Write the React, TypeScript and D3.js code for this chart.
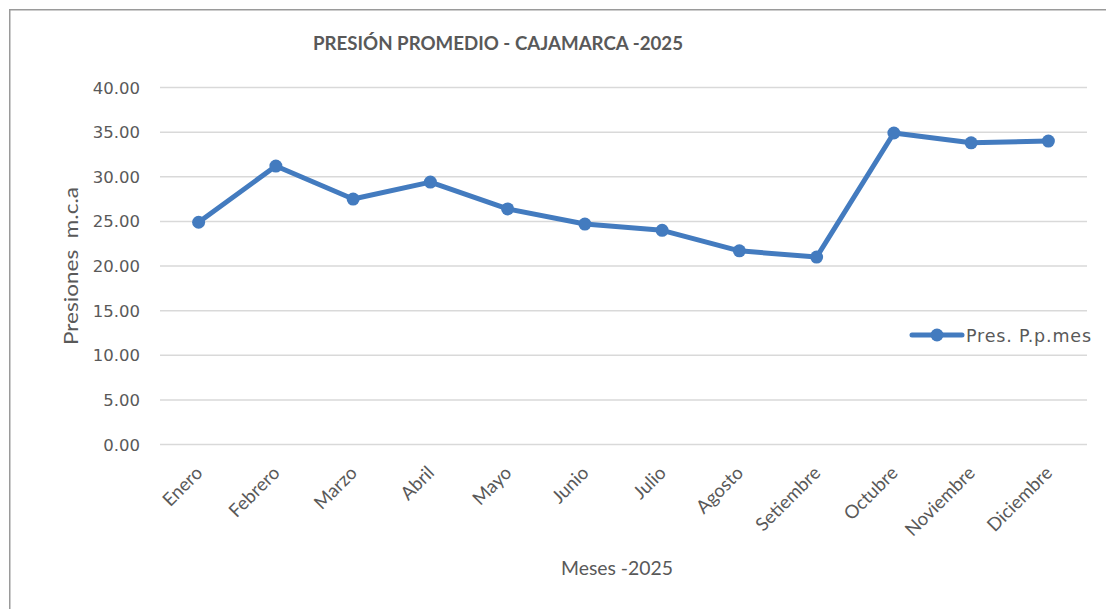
import React from "react";
import * as d3 from "d3";

const months = ["Enero","Febrero","Marzo","Abril","Mayo","Junio","Julio","Agosto","Setiembre","Octubre","Noviembre","Diciembre"];
const pressures = [24.9, 31.2, 27.5, 29.4, 26.4, 24.7, 24.0, 21.7, 21.0, 34.9, 33.8, 34.0];
const yTicks = [0, 5, 10, 15, 20, 25, 30, 35, 40];
const seriesName = "Pres. P.p.mes";
const title = "PRESIÓN PROMEDIO - CAJAMARCA -2025";
const yTitle = "Presiones  m.c.a";
const xTitle = "Meses -2025";

const W = 1106, H = 609;
const plotL = 160, plotR = 1087, plotT = 87.5, plotB = 444.5;
const BLUE = "#437BBF";
const TXT = "#595959";

export default function App() {
  const x = d3.scalePoint<string>().domain(months).range([plotL, plotR]).padding(0.5);
  const y = d3.scaleLinear().domain([0, 40]).range([plotB, plotT]);
  const line = d3.line<number>().x((_, i) => x(months[i])!).y((d) => y(d));
  const pathD = line(pressures) || "";
  return (
    <svg width={W} height={H} style={{ position: "absolute", left: 0, top: 0, background: "#fff" }}>
      <rect x={0} y={0} width={W} height={H} fill="#fff" />
      <rect x={9.75} y={9.75} width={1200} height={700} fill="none" stroke="#9a9a9a" strokeWidth={1.5} />
      <text x={498} y={50} textAnchor="middle" fontFamily="Lato" fontWeight="bold" fontSize={18} fill={TXT} textLength={370} lengthAdjust="spacingAndGlyphs">{title}</text>
      {yTicks.map((t) => (
        <g key={t}>
          <line x1={plotL} x2={plotR} y1={y(t)} y2={y(t)} stroke="#d9d9d9" strokeWidth={1.5} />
          <text x={140} y={y(t) + 6} textAnchor="end" fontFamily="DejaVu Sans" fontSize={16.5} fill={TXT}>{t.toFixed(2)}</text>
        </g>
      ))}
      <text transform={`translate(78,${(plotT + plotB) / 2}) rotate(-90)`} textAnchor="middle" fontFamily="Lato" fontSize={20} fill={TXT} textLength={158} lengthAdjust="spacingAndGlyphs" style={{ whiteSpace: "pre" }}>{yTitle}</text>
      {months.map((m) => (
        <text key={m} transform={`translate(${x(m)! + 5},${474}) rotate(-45)`} textAnchor="end" fontFamily="Lato" fontSize={18.5} fill={TXT}>{m}</text>
      ))}
      <text x={617} y={575} textAnchor="middle" fontFamily="Lato" fontSize={20} fill={TXT} textLength={112} lengthAdjust="spacingAndGlyphs">{xTitle}</text>
      <path d={pathD} fill="none" stroke={BLUE} strokeWidth={5} strokeLinejoin="round" strokeLinecap="round" />
      {pressures.map((v, i) => (
        <circle key={i} cx={x(months[i])!} cy={y(v)} r={6.5} fill={BLUE} />
      ))}
      <line x1={912} x2={962} y1={335} y2={335} stroke={BLUE} strokeWidth={5} strokeLinecap="round" />
      <circle cx={937} cy={335} r={6.5} fill={BLUE} />
      <text x={966} y={341.5} fontFamily="DejaVu Sans" fontSize={17.5} fill={TXT} textLength={125} lengthAdjust="spacing">{seriesName}</text>
    </svg>
  );
}
